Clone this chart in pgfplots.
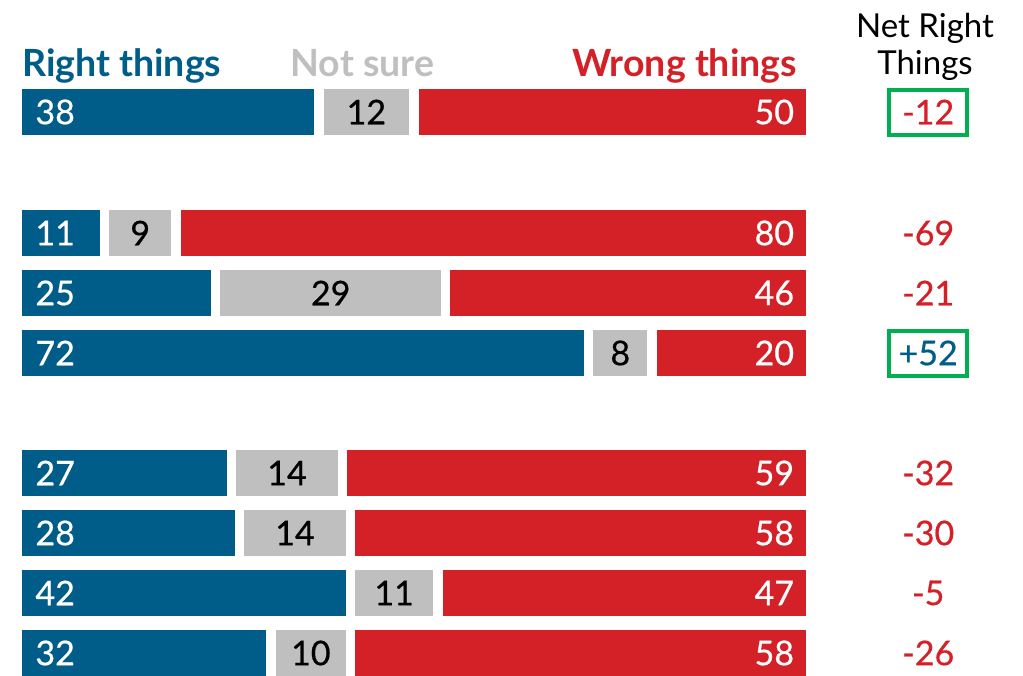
\documentclass[border=0pt]{standalone}
\usepackage{pgfplots}
\pgfplotsset{compat=1.18}
\usepackage{pgfplotstable}
\usepackage{fontspec}
\setmainfont{Lato}
\newfontface\numface{Lato}[FakeBold=0.6]

\definecolor{rblue}{HTML}{005D8A}
\definecolor{rred}{HTML}{D42027}
\definecolor{rgray}{HTML}{BFBFBF}
\definecolor{rgreen}{HTML}{00B050}

\newcommand{\numfont}{\numface\fontsize{34}{40}\selectfont}
\newcommand{\headfont}{\fontsize{37.5}{40}\selectfont\bfseries}

% y = row position (px from top), r = right things, n = not sure, w = wrong things
\pgfplotstableread{
y   r  n  w
112 38 12 50
233 11 9  80
293 25 29 46
353 72 8  20
473 27 14 59
533 28 14 58
593 42 11 47
653 32 10 58
}\bars

\pgfplotstableread{
y   net
233 -69
293 -21
473 -32
533 -30
593 -5
653 -26
}\netplain

\pgfplotstableread{
y   net
112 -12
}\netboxred

\pgfplotstableread{
y   net
353 +52
}\netboxblue

\begin{document}
\begin{tikzpicture}
  \begin{axis}[
      scale only axis,
      width=1023pt, height=675pt,
      xmin=-2.174, xmax=126.75,
      ymin=0, ymax=675,
      y dir=reverse,
      hide axis,
      clip=false,
    ]

    % cumulative bars, drawn back to front
    \addplot[xbar, bar shift=0pt, bar width=55.5, fill=rred, draw=white, line width=9.5pt]
      table[x expr=\thisrow{r}+\thisrow{n}+\thisrow{w}, y=y] {\bars};
    \addplot[xbar, bar shift=0pt, bar width=55.5, fill=rgray, draw=white, line width=9.5pt]
      table[x expr=\thisrow{r}+\thisrow{n}, y=y] {\bars};
    \addplot[xbar, bar shift=0pt, bar width=55.5, fill=rblue, draw=white, line width=9.5pt]
      table[x=r, y=y] {\bars};

    % value labels
    \addplot[draw=none, nodes near coords, point meta=explicit symbolic,
      nodes near coords align={anchor=west},
      every node near coord/.append style={anchor=west, inner sep=0pt, xshift=18pt, text=white, font=\numfont}]
      table[x expr=0, y=y, meta=r] {\bars};
    \addplot[draw=none, nodes near coords, point meta=explicit symbolic,
      nodes near coords align={anchor=center},
      every node near coord/.append style={anchor=center, inner sep=0pt, text=black, font=\numfont}]
      table[x expr=\thisrow{r}+\thisrow{n}/2, y=y, meta=n] {\bars};
    \addplot[draw=none, nodes near coords, point meta=explicit symbolic,
      nodes near coords align={anchor=east},
      every node near coord/.append style={anchor=east, inner sep=0pt, xshift=-16.5pt, text=white, font=\numfont}]
      table[x expr=\thisrow{r}+\thisrow{n}+\thisrow{w}, y=y, meta=w] {\bars};

    % net column
    \addplot[draw=none, nodes near coords, point meta=explicit symbolic,
      nodes near coords align={anchor=center},
      every node near coord/.append style={anchor=center, inner sep=0pt, text=rred, font=\numfont}]
      table[x expr=114.8, y=y, meta=net] {\netplain};
    \addplot[draw=none, nodes near coords, point meta=explicit symbolic,
      nodes near coords align={anchor=center},
      every node near coord/.append style={anchor=center, inner sep=0pt, text=rred, font=\numfont,
        draw=rgreen, line width=4pt, minimum width=78pt, minimum height=45pt}]
      table[x expr=114.8, y=y, meta=net] {\netboxred};
    \addplot[draw=none, nodes near coords, point meta=explicit symbolic,
      nodes near coords align={anchor=center},
      every node near coord/.append style={anchor=center, inner sep=0pt, text=rblue, font=\numfont,
        draw=rgreen, line width=4pt, minimum width=78pt, minimum height=45pt}]
      table[x expr=114.8, y=y, meta=net] {\netboxblue};

    % headers
    \node[anchor=base west, inner sep=0pt, text=rblue, font=\headfont] at (axis cs:0.6,76) {Right things};
    \node[anchor=base, inner sep=0pt, text=rgray, font=\headfont] at (axis cs:43.5,76) {Not sure};
    \node[anchor=base east, inner sep=0pt, text=rred, font=\headfont] at (axis cs:98.3,76) {Wrong things};
    \node[anchor=base, inner sep=0pt, text=black, font=\fontsize{33}{37}\selectfont] at (axis cs:114.4,37) {Net Right};
    \node[anchor=base, inner sep=0pt, text=black, font=\fontsize{33}{37}\selectfont] at (axis cs:114.4,74) {Things};
  \end{axis}
  \pgfresetboundingbox
  \path (current axis.south west) rectangle (current axis.north east);
\end{tikzpicture}
\end{document}
